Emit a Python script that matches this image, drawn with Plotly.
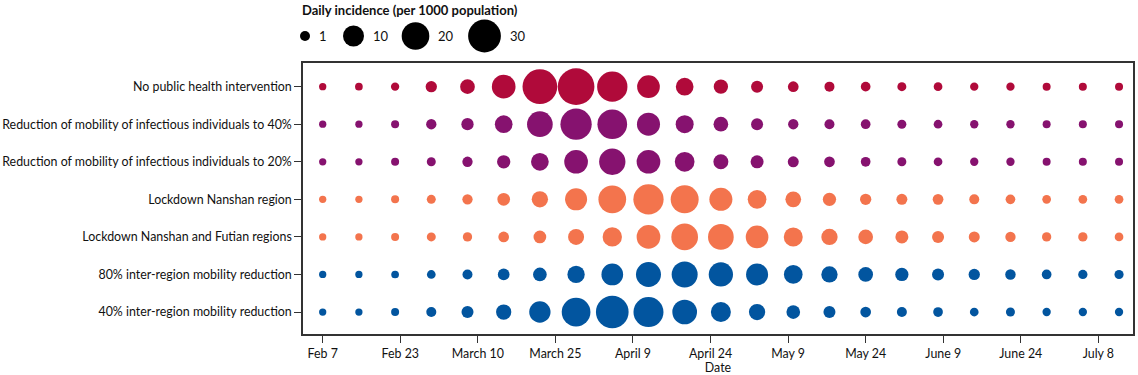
import numpy as np
import plotly.graph_objects as go

# ---------------- data ----------------
scenarios = [
    "No public health intervention",
    "Reduction of mobility of infectious individuals to 40%",
    "Reduction of mobility of infectious individuals to 20%",
    "Lockdown Nanshan region",
    "Lockdown Nanshan and Futian regions",
    "80% inter-region mobility reduction",
    "40% inter-region mobility reduction",
]

# days since Feb 7 (weekly)
days = [0, 7, 14, 21, 28, 35, 42, 49, 56, 63, 70, 77, 84, 91, 98, 105, 112,
        119, 126, 133, 140, 147, 154]

tick_days = [0, 15, 30, 45, 60, 75, 90, 105, 120, 135, 150]
tick_labels = ["Feb 7", "Feb 23", "March 10", "March 25", "April 9", "April 24",
               "May 9", "May 24", "June 9", "June 24", "July 8"]

# daily incidence per 1000 population
no_intervention = [0.22, 0.30, 0.45, 1.58, 3.71, 13.6, 34.3, 39.0, 24.9, 12.2, 6.32, 3.41,
                   1.95, 1.30, 1.00, 0.89, 0.65, 0.56, 0.45, 0.45, 0.37, 0.37, 0.37]
mobility_40 = [0.22, 0.22, 0.37, 1.13, 2.11, 6.32, 16.7, 26.9, 23.7, 12.7, 6.62, 3.71,
               1.95, 1.13, 1.00, 0.89, 0.65, 0.56, 0.45, 0.45, 0.37, 0.37, 0.37]
mobility_20 = [0.22, 0.22, 0.37, 0.65, 1.13, 2.72, 6.32, 13.6, 17.7, 13.6, 8.45, 3.94,
               2.53, 1.44, 1.30, 0.89, 0.65, 0.56, 0.45, 0.45, 0.37, 0.37, 0.37]
lockdown_nanshan = [0.22, 0.22, 0.37, 0.65, 1.13, 2.35, 5.02, 11.3, 20.1, 24.9, 20.6, 12.7,
                    7.35, 4.50, 2.72, 1.58, 1.44, 1.30, 1.00, 0.89, 0.56, 0.56, 0.56]
lockdown_nanshan_futian = [0.22, 0.22, 0.37, 0.65, 0.75, 1.30, 2.35, 4.76, 8.00, 13.6, 18.3, 16.7,
                           12.2, 7.67, 5.02, 3.71, 2.53, 1.95, 1.44, 1.13, 0.75, 0.75, 0.56]
interregion_80 = [0.22, 0.22, 0.30, 0.56, 1.00, 1.78, 2.99, 5.93, 10.9, 15.6, 17.2, 14.5,
                  11.3, 7.35, 5.02, 3.70, 2.70, 1.95, 1.58, 1.20, 0.89, 0.75, 0.70]
interregion_40 = [0.22, 0.22, 0.37, 1.00, 1.95, 4.17, 10.4, 21.9, 29.8, 24.3, 15.1, 8.80,
                  5.02, 2.99, 1.95, 1.30, 1.00, 0.89, 0.56, 0.65, 0.45, 0.45, 0.45]

series = [no_intervention, mobility_40, mobility_20, lockdown_nanshan,
          lockdown_nanshan_futian, interregion_80, interregion_40]

legend_values = [1, 10, 20, 30]
legend_labels = ["1", "10", "20", "30"]

# ---------------- style ----------------
colors = ["#B00A3A", "#86126F", "#86126F", "#F3744D", "#F3744D", "#02559F", "#02559F"]
FONT = "Lato"
AX = "#333333"
FS = 12.4


def size_px(v):
    return 4.9 + 5.09 * np.sqrt(np.asarray(v, dtype=float))


fig = go.Figure()
for i, (name, vals) in enumerate(zip(scenarios, series)):
    fig.add_trace(go.Scatter(
        x=days, y=[i] * len(days), mode="markers", name=name,
        marker=dict(size=size_px(vals), sizemode="diameter", color=colors[i],
                    line=dict(width=0), opacity=1),
        showlegend=False, hoverinfo="skip", xaxis="x", yaxis="y"))

# size legend (separate invisible axes above the plot)
legend_x = [305, 353.5, 415.5, 484.5]
fig.add_trace(go.Scatter(
    x=legend_x, y=[0] * 4, mode="markers", cliponaxis=False,
    marker=dict(size=size_px(legend_values), sizemode="diameter", color="#000000",
                line=dict(width=0), opacity=1),
    showlegend=False, hoverinfo="skip", xaxis="x2", yaxis="y2"))

annotations = []
for xv, lab, v in zip(legend_x, legend_labels, legend_values):
    annotations.append(dict(
        x=xv + size_px(v) / 2 + 7, y=0, xref="x2", yref="y2", text=lab,
        showarrow=False, xanchor="left", yanchor="middle",
        font=dict(family=FONT, size=13, color="#111111")))
annotations.append(dict(
    x=0, xshift=-3, y=0.97, xref="paper", yref="paper",
    text="<b>Daily incidence (per 1000 population)</b>", showarrow=False,
    xanchor="left", yanchor="middle", font=dict(family=FONT, size=13, color="#111111")))

H_PLOT = 334.0
fig.update_layout(
    width=1138, height=375,
    margin=dict(l=303, r=5, t=0, b=41, autoexpand=False),
    plot_bgcolor="white", paper_bgcolor="white",
    font=dict(family=FONT, size=FS, color="#111111"),
    annotations=annotations,
    xaxis=dict(range=[-3.81, 156.7], tickvals=tick_days, ticktext=tick_labels,
               ticks="outside", ticklen=7, tickwidth=1.2, tickcolor=AX,
               showline=True, linecolor=AX, linewidth=1.5, mirror=True,
               showgrid=False, zeroline=False, domain=[0, 1], anchor="y",
               automargin=False,
               title=dict(text="Date", standoff=2, font=dict(size=FS)),
               tickfont=dict(size=FS)),
    yaxis=dict(range=[6.585, -0.63], tickvals=list(range(len(scenarios))),
               ticktext=scenarios, ticks="outside", ticklen=7, tickwidth=1.2,
               tickcolor=AX, showline=True, linecolor=AX, linewidth=1.5, mirror=True,
               showgrid=False, zeroline=False, domain=[0, 271.0 / H_PLOT],
               anchor="x", automargin=False, tickfont=dict(size=FS)),
    xaxis2=dict(domain=[0, 1], range=[303, 1133], visible=False, anchor="y2",
                fixedrange=True),
    yaxis2=dict(domain=[(H_PLOT - 54) / H_PLOT, (H_PLOT - 18) / H_PLOT], range=[-1, 1],
                visible=False, anchor="x2", fixedrange=True),
)

fig.write_html("out.html", config={"displayModeBar": False},
               post_script="document.body.style.margin='0';document.body.style.overflow='hidden';")
